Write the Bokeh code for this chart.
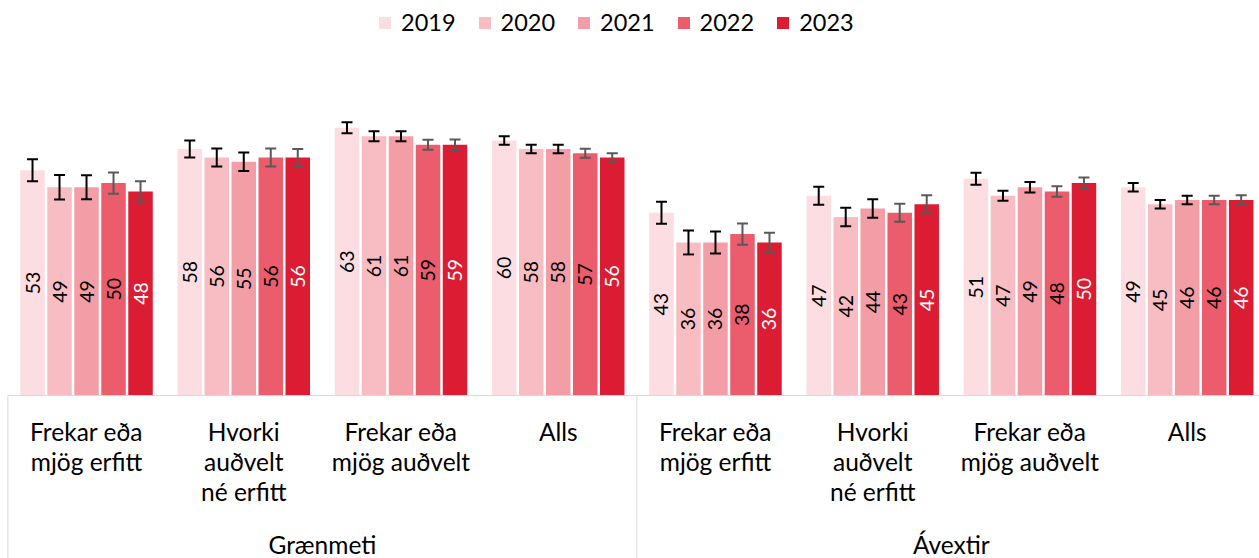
from bokeh.plotting import figure
from bokeh.models import ColumnDataSource, Range1d, Legend, LegendItem
from bokeh.core.properties import value
from bokeh.embed import file_html
from bokeh.resources import INLINE
import math

# ---------------- data ----------------
groups = ["Grænmeti", "Ávextir"]
subcats = ["Frekar eða\nmjög erfitt", "Hvorki\nauðvelt\nné erfitt", "Frekar eða\nmjög auðvelt", "Alls"]
years = ["2019", "2020", "2021", "2022", "2023"]

v2019 = [53, 58, 63, 60, 43, 47, 51, 49]
v2020 = [49, 56, 61, 58, 36, 42, 47, 45]
v2021 = [49, 55, 61, 58, 36, 44, 49, 46]
v2022 = [50, 56, 59, 57, 38, 43, 48, 46]
v2023 = [48, 56, 59, 56, 36, 45, 50, 46]

e2019 = [2.6, 2.0, 1.3, 1.0, 2.6, 2.1, 1.4, 1.0]
e2020 = [2.9, 2.1, 1.2, 1.0, 2.8, 2.2, 1.2, 1.0]
e2021 = [2.8, 2.2, 1.2, 1.0, 2.6, 2.2, 1.25, 1.0]
e2022 = [2.5, 2.1, 1.2, 1.05, 2.5, 2.1, 1.25, 1.0]
e2023 = [2.4, 2.0, 1.25, 1.0, 2.3, 2.1, 1.3, 1.1]

values = [v2019, v2020, v2021, v2022, v2023]
errors = [e2019, e2020, e2021, e2022, e2023]

# ---------------- styles ----------------
bar_colors = ["#FCDDE1", "#F7BDC3", "#F39DA6", "#EB5D6C", "#DC1C32"]
err_colors = ["#000000", "#000000", "#000000", "#595959", "#595959"]
lbl_colors = ["#000000", "#000000", "#000000", "#000000", "#FFFFFF"]
FONT_NAME = "Lato"
FONT = value(FONT_NAME)
GRID = "#D9D9D9"

W, H = 1259, 558
PX_X = 157.24            # px per group
PX_Y = 4.25              # px per value unit
BASE_FROM_TOP = 395      # baseline (value 0) px from figure top
LEFT_EDGE = 7.4          # px of the first group's left edge
TEXT_SHIFT = 9           # empirical correction of the rendered text baseline

x0 = -0.5 - LEFT_EDGE / PX_X
x_range = Range1d(x0, x0 + W / PX_X)
y_range = Range1d(-(H - BASE_FROM_TOP) / PX_Y, BASE_FROM_TOP / PX_Y)

p = figure(width=W, height=H, x_range=x_range, y_range=y_range,
           x_axis_type=None, y_axis_type=None, toolbar_location=None,
           output_backend="svg", min_border=0, outline_line_color=None)
p.grid.visible = False

n_cat = len(groups) * len(subcats)
pitch = 27 / PX_X
bw = 24.5 / PX_X
cap = 5.5 / PX_X

legend_items = []
for k, yr in enumerate(years):
    xs = [i + (k - 2) * pitch for i in range(n_cat)]
    vals = values[k]
    errs = errors[k]
    src = ColumnDataSource(dict(
        x=xs, top=vals, mid=[v / 2 for v in vals], lbl=[str(v) for v in vals],
        lo=[v - e for v, e in zip(vals, errs)], hi=[v + e for v, e in zip(vals, errs)],
        xl=[x - cap for x in xs], xr=[x + cap for x in xs],
    ))
    r = p.vbar(x="x", top="top", width=bw, bottom=0, source=src,
               fill_color=bar_colors[k], line_color=None)
    legend_items.append(LegendItem(label=yr, renderers=[r]))
    p.segment(x0="x", y0="lo", x1="x", y1="hi", source=src, line_color=err_colors[k], line_width=2)
    p.segment(x0="xl", y0="lo", x1="xr", y1="lo", source=src, line_color=err_colors[k], line_width=2)
    p.segment(x0="xl", y0="hi", x1="xr", y1="hi", source=src, line_color=err_colors[k], line_width=2)
    p.text(x="x", y="mid", text="lbl", source=src, angle=math.pi / 2,
           text_align="center", text_baseline="middle", text_font=FONT,
           text_font_size="19.5px", text_color=lbl_colors[k])

# ---------------- category axis (custom) ----------------
ymin = y_range.start
p.segment(x0=[-0.5], y0=[0], x1=[x_range.end], y1=[0], line_color=GRID, line_width=1)
sep_x = [-0.5] + [g * len(subcats) - 0.5 for g in range(1, len(groups) + 1)]
p.segment(x0=sep_x, y0=[0] * len(sep_x), x1=sep_x, y1=[ymin] * len(sep_x),
          line_color=GRID, line_width=1)

line_h = 30 / PX_Y
first_base = -(439.5 - TEXT_SHIFT - BASE_FROM_TOP) / PX_Y
tx, ty, tt = [], [], []
for g in range(len(groups)):
    for s, lab in enumerate(subcats):
        i = g * len(subcats) + s
        for j, ln in enumerate(lab.split("\n")):
            tx.append(i)
            ty.append(first_base - j * line_h)
            tt.append(ln)
p.text(x=tx, y=ty, text=tt, text_align="center", text_baseline="alphabetic",
       text_font=FONT, text_font_size="24.5px", text_color="#000000")

gx = [g * len(subcats) + (len(subcats) - 1) / 2 for g in range(len(groups))]
gy = [-(553 - TEXT_SHIFT - BASE_FROM_TOP) / PX_Y] * len(groups)
p.text(x=gx, y=gy, text=groups, text_align="center", text_baseline="alphabetic",
       text_font=FONT, text_font_size="24.5px", text_color="#000000")

# ---------------- legend ----------------
legend = Legend(items=legend_items, orientation="horizontal", location=(377, H - 36),
                glyph_width=15, glyph_height=15, label_standoff=9, spacing=21,
                padding=0, margin=0, border_line_color=None, background_fill_alpha=0,
                label_text_font=FONT_NAME, label_text_font_size="23.5px", label_text_color="#000000")
p.add_layout(legend, "center")

open("out.html", "w").write(file_html(p, INLINE))
